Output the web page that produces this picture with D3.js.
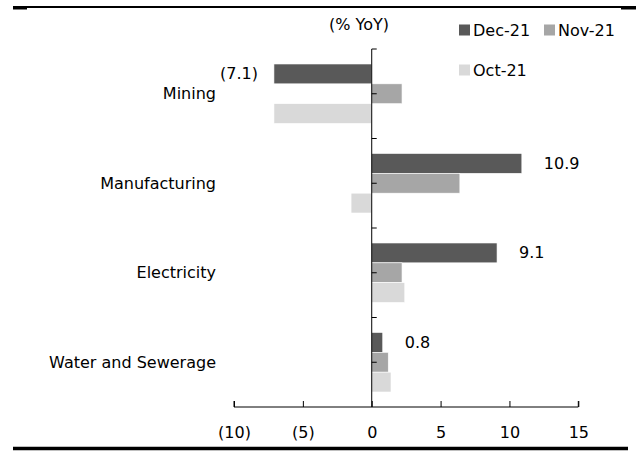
<!DOCTYPE html>
<html>
<head>
<meta charset="utf-8">
<script src="https://cdn.jsdelivr.net/npm/d3@7"></script>
<style>
  html, body { margin: 0; padding: 0; background: #fff; }
  svg { display: block; }
  text { font-family: "DejaVu Sans", sans-serif; fill: #000; }
</style>
</head>
<body>
<svg id="chart" width="637" height="451"></svg>
<script>
const categories = ["Mining", "Manufacturing", "Electricity", "Water and Sewerage"];
const seriesNames = ["Dec-21", "Nov-21", "Oct-21"];
const dec21 = [-7.1, 10.9, 9.1, 0.8];
const nov21 = [2.2, 6.4, 2.2, 1.2];
const oct21 = [-7.1, -1.5, 2.4, 1.4];
const xTicks = [-10, -5, 0, 5, 10, 15];
const unitLabel = "(% YoY)";
const colors = ["#595959", "#a6a6a6", "#d9d9d9"];

const seriesValues = [dec21, nov21, oct21];

const svg = d3.select("#chart");

const x = d3.scaleLinear().domain([-10, 15]).range([234, 578.3]);
const y = d3.scaleBand().domain(categories).range([49, 407]).paddingInner(0.335).paddingOuter(0.1675);
const ySub = d3.scaleBand().domain(seriesNames).range([0, y.bandwidth()]);

const fmt = v => v < 0 ? "(" + d3.format(".1f")(-v) + ")" : d3.format(".1f")(v);
const fmtTick = v => v < 0 ? "(" + (-v) + ")" : String(v);

// frame lines
svg.append("line").attr("x1", 13).attr("x2", 636).attr("y1", 7).attr("y2", 7)
  .attr("stroke", "#000").attr("stroke-width", 2);
svg.append("rect").attr("x", 13).attr("y", 6).attr("width", 14).attr("height", 3.5).attr("fill", "#000");
svg.append("rect").attr("x", 621).attr("y", 6).attr("width", 15).attr("height", 3.5).attr("fill", "#000");
svg.append("line").attr("x1", 13).attr("x2", 628).attr("y1", 448.5).attr("y2", 448.5)
  .attr("stroke", "#000").attr("stroke-width", 3.3);

// bars
categories.forEach((c, i) => {
  seriesNames.forEach((s, j) => {
    const v = seriesValues[j][i];
    svg.append("rect")
      .attr("x", x(Math.min(0, v)))
      .attr("y", y(c) + ySub(s))
      .attr("width", Math.abs(x(v) - x(0)))
      .attr("height", ySub.bandwidth())
      .attr("fill", colors[j])
      .attr("stroke", "#ffffff")
      .attr("stroke-width", 0.6);
  });
});

// x axis
const xAxis = d3.axisBottom(x).tickValues(xTicks).tickSize(-6).tickPadding(16).tickFormat(fmtTick);
const gx = svg.append("g").attr("transform", "translate(0,407)").call(xAxis);
gx.select(".domain").attr("d", `M${x(-10)},-6V0H${x(15)}V-6`).attr("stroke", "#000").attr("stroke-width", 1);
gx.selectAll(".tick line").attr("stroke", "#000");
gx.selectAll(".tick text").attr("font-size", 16).attr("font-family", "DejaVu Sans, sans-serif").attr("fill", "#000").attr("dy", "0.95em");

// vertical category axis at zero
svg.append("line").attr("x1", x(0)).attr("x2", x(0)).attr("y1", 49).attr("y2", 407)
  .attr("stroke", "#000").attr("stroke-width", 1);
const tickYs = [];
categories.forEach(c => {
  tickYs.push(y(c) - y.step() * y.paddingInner() / 2);
  tickYs.push(y(c) + y.bandwidth() / 2);
});
tickYs.forEach(t => {
  svg.append("line").attr("x1", x(0)).attr("x2", x(0) + 5).attr("y1", t).attr("y2", t)
    .attr("stroke", "#000").attr("stroke-width", 1);
});

// category labels
svg.selectAll(".cat").data(categories).enter().append("text")
  .attr("x", 216)
  .attr("y", d => y(d) + y.bandwidth() / 2)
  .attr("text-anchor", "end")
  .attr("dominant-baseline", "central")
  .attr("font-size", 16)
  .text(d => d);

// data labels (Dec-21)
categories.forEach((c, i) => {
  const v = dec21[i];
  const cy = y(c) + ySub("Dec-21") + ySub.bandwidth() / 2;
  svg.append("text")
    .attr("x", v < 0 ? x(v) - 16 : x(v) + 22)
    .attr("y", cy)
    .attr("text-anchor", v < 0 ? "end" : "start")
    .attr("dominant-baseline", "central")
    .attr("font-size", 16)
    .text(fmt(v));
});

// unit label
svg.append("text").attr("x", 359).attr("y", 24).attr("text-anchor", "middle")
  .attr("dominant-baseline", "central").attr("font-size", 16).text(unitLabel);

// legend
const legendPos = [[459, 30], [544, 30], [459, 70]];
seriesNames.forEach((s, j) => {
  const [lx, ly] = legendPos[j];
  svg.append("rect").attr("x", lx).attr("y", ly - 5.5).attr("width", 11).attr("height", 11).attr("fill", colors[j]);
  svg.append("text").attr("x", lx + 14).attr("y", ly).attr("dominant-baseline", "central")
    .attr("font-size", 16).text(s);
});
</script>
</body>
</html>
